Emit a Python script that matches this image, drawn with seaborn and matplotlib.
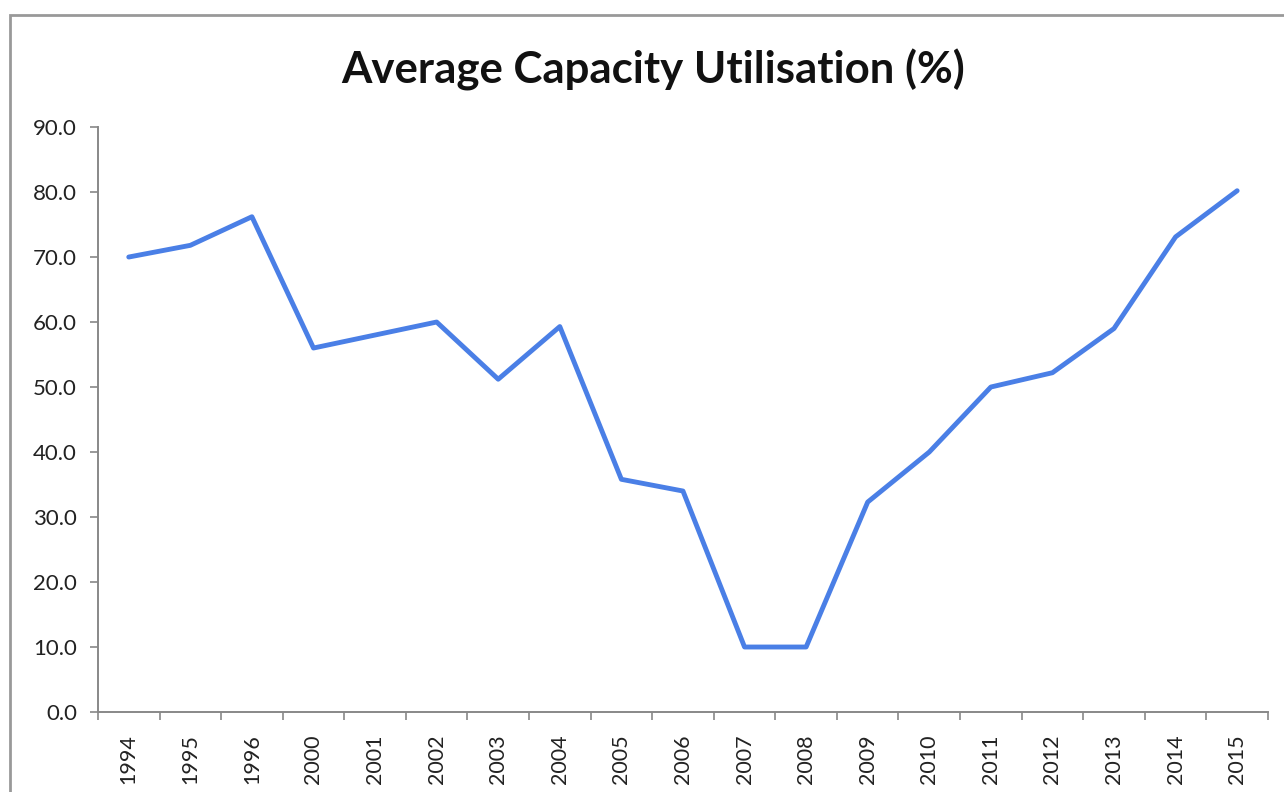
import matplotlib
matplotlib.use("Agg")
import matplotlib.pyplot as plt
import seaborn as sns
import pandas as pd
import numpy as np
from matplotlib.patches import Rectangle
from matplotlib.ticker import FixedLocator, FormatStrFormatter

years = ["1994", "1995", "1996", "2000", "2001", "2002", "2003", "2004", "2005",
         "2006", "2007", "2008", "2009", "2010", "2011", "2012", "2013", "2014", "2015"]
utilisation = [70.0, 71.8, 76.2, 56.0, 58.0, 60.0, 51.2, 59.3, 35.8,
               34.0, 10.0, 10.0, 32.3, 40.0, 50.0, 52.2, 59.0, 73.1, 80.2]
title = "Average Capacity Utilisation (%)"

sns.set_theme(style="white")
plt.rcParams['font.family'] = ['Lato', 'DejaVu Sans']

df = pd.DataFrame({"Year": years, "Utilisation": utilisation})

fig = plt.figure(figsize=(12.84, 7.92), dpi=100)
ax = fig.add_axes([0.0763, 0.101, 0.9112, 0.7386])

sns.lineplot(data=df, x="Year", y="Utilisation", ax=ax, color="#4a7fe6",
             linewidth=3.5, sort=False)

ax.set_xlim(-0.5, len(years) - 0.5)
ax.set_ylim(0, 90)
ax.set_yticks(np.arange(0, 91, 10))
ax.yaxis.set_major_formatter(FormatStrFormatter("%.1f"))
ax.set_xticks(range(len(years)))
ax.set_xticklabels(years, rotation=90)
ax.xaxis.set_minor_locator(FixedLocator(np.arange(-0.5, len(years), 1.0)))
ax.tick_params(axis="x", which="major", length=0, pad=16, labelsize=15.5, colors="#222222")
ax.tick_params(axis="x", which="minor", length=6, width=1.2, color="#888888", direction="out", bottom=True)
ax.tick_params(axis="y", which="major", length=6, width=1.2, color="#888888", direction="out", left=True,
               labelsize=16, labelcolor="#222222", pad=9)

for s in ["top", "right"]:
    ax.spines[s].set_visible(False)
for s in ["left", "bottom"]:
    ax.spines[s].set_color("#888888")
    ax.spines[s].set_linewidth(1.4)

ax.set_xlabel("")
ax.set_ylabel("")
ax.grid(False)

fig.text(0.5086, 0.912, title, ha="center", va="center", fontsize=31.5, fontweight="bold", color="#111111")

rect = Rectangle((10 / 1284, -0.05), 1.2, 1 - 15 / 792 + 0.05, transform=fig.transFigure,
                 fill=False, edgecolor="#999999", linewidth=2, zorder=10)
fig.patches.append(rect)

fig.savefig("out.png", dpi=100)
